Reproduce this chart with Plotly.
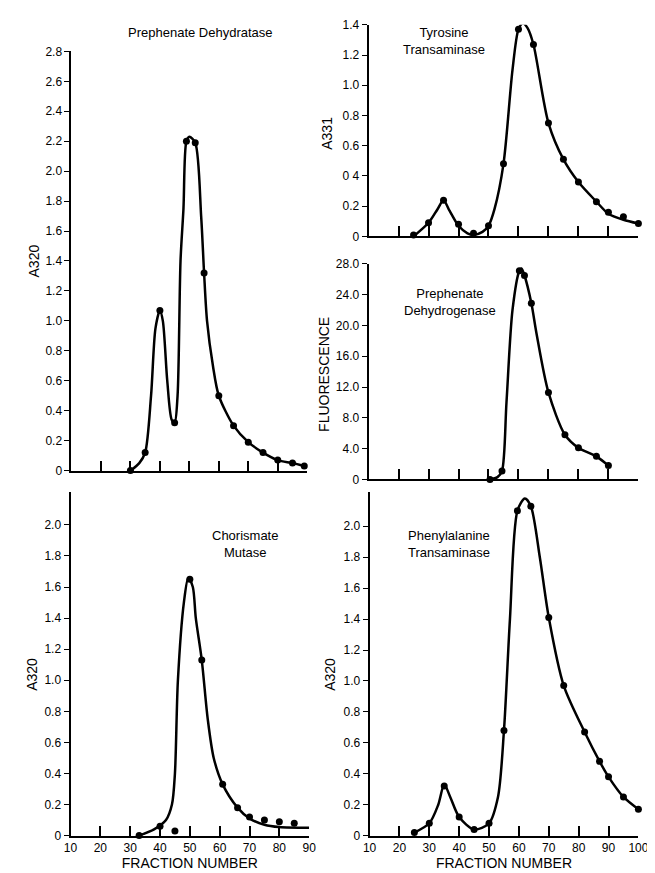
import plotly.graph_objects as go

W, H = 655, 873

# Prephenate Dehydratase (A320)
pdt_x = [30, 35, 40, 45, 49, 52, 55, 60, 65, 70, 75, 80, 85, 89]
pdt_y = [0.0, 0.12, 1.07, 0.32, 2.2, 2.19, 1.32, 0.5, 0.3, 0.19, 0.12, 0.07, 0.05, 0.03]
pdt_cx = [30, 33, 35, 37, 38.5, 40, 41, 42.5, 44, 45, 46, 47, 48, 49, 50, 52, 54, 55, 56, 58, 60, 65, 70, 75, 80, 85, 89]
pdt_cy = [0.0, 0.05, 0.12, 0.5, 0.95, 1.07, 1.0, 0.6, 0.34, 0.32, 0.5, 1.4, 1.75, 2.2, 2.23, 2.19, 1.7, 1.32, 1.0, 0.7, 0.5, 0.3, 0.19, 0.12, 0.07, 0.05, 0.03]

# Chorismate Mutase (A320)
cm_x = [33, 40, 45, 50, 54, 61, 66, 70, 75, 80, 85]
cm_y = [0.0, 0.06, 0.03, 1.65, 1.13, 0.33, 0.18, 0.12, 0.1, 0.09, 0.08]
cm_cx = [33, 38, 42, 44, 45, 46, 48, 49.5, 51, 52, 54, 56, 58, 61, 66, 70, 75, 80, 90]
cm_cy = [0.0, 0.04, 0.1, 0.2, 0.4, 1.0, 1.5, 1.66, 1.6, 1.4, 1.13, 0.75, 0.5, 0.33, 0.18, 0.11, 0.07, 0.055, 0.05]

# Tyrosine Transaminase (A331)
tt_x = [25, 30, 35, 40, 45, 50, 55, 60, 65, 70, 75, 80, 86, 90, 95, 100]
tt_y = [0.01, 0.09, 0.24, 0.08, 0.02, 0.07, 0.48, 1.37, 1.27, 0.75, 0.51, 0.36, 0.23, 0.16, 0.13, 0.085]
tt_cx = [25, 30, 33, 35, 37, 40, 43, 45, 48, 50, 52, 55, 58, 60, 61.5, 63, 65, 70, 75, 80, 86, 90, 95, 100]
tt_cy = [0.0, 0.09, 0.18, 0.24, 0.17, 0.07, 0.02, 0.01, 0.03, 0.07, 0.18, 0.48, 1.1, 1.37, 1.41, 1.38, 1.27, 0.75, 0.51, 0.36, 0.23, 0.15, 0.11, 0.085]

# Prephenate Dehydrogenase (fluorescence)
pdh_x = [50.5, 54.5, 60.3, 62, 64.3, 70, 75.5, 80, 86, 90]
pdh_y = [0.0, 1.1, 27.1, 26.5, 22.9, 11.3, 5.8, 4.1, 3.0, 1.8]
pdh_cx = [50.5, 53, 54.5, 56, 58, 60.3, 61, 62, 64.3, 66, 70, 75.5, 80, 86, 90]
pdh_cy = [0.0, 0.3, 1.1, 10, 22, 27.1, 27.4, 26.5, 22.9, 19, 11.3, 5.8, 4.1, 3.0, 1.8]

# Phenylalanine Transaminase (A320)
pt_x = [25, 30, 35, 40, 45, 50, 55, 59.5, 64, 70, 75, 82, 87, 90, 95, 100]
pt_y = [0.02, 0.08, 0.32, 0.12, 0.04, 0.08, 0.68, 2.1, 2.13, 1.41, 0.97, 0.67, 0.48, 0.38, 0.25, 0.17]
pt_cx = [25, 30, 33, 35, 37, 40, 45, 50, 53, 55, 57, 59.5, 62, 64, 67, 70, 75, 82, 87, 90, 95, 100]
pt_cy = [0.02, 0.08, 0.2, 0.33, 0.25, 0.12, 0.04, 0.08, 0.25, 0.68, 1.4, 2.1, 2.18, 2.13, 1.8, 1.41, 0.97, 0.67, 0.48, 0.38, 0.25, 0.17]

left_ticks = [10, 20, 30, 40, 50, 60, 70, 80, 90]
right_ticks = [10, 20, 30, 40, 50, 60, 70, 80, 90, 100]

FONT = "Liberation Sans"


def px_x(p):
    return p / W


def px_y(p):
    return 1 - p / H


panels = [
    # name, curve x, curve y, pts x, pts y, xdom px, ydom px, yrange, yticks, ytext, xlabels, xticks, xrange
    ("1", pdt_cx, pdt_cy, pdt_x, pdt_y, (58, 300), (463, 37), [0, 2.8],
     [0, 0.2, 0.4, 0.6, 0.8, 1.0, 1.2, 1.4, 1.6, 1.8, 2.0, 2.2, 2.4, 2.6, 2.8], None, False, left_ticks, [10, 90]),
    ("2", cm_cx, cm_cy, cm_x, cm_y, (57, 302), (834, 485), [0, 2.21],
     [0, 0.2, 0.4, 0.6, 0.8, 1.0, 1.2, 1.4, 1.6, 1.8, 2.0], None, True, left_ticks, [10, 90]),
    ("3", tt_cx, tt_cy, tt_x, tt_y, (363, 640), (225, 10), [0, 1.4],
     [0, 0.2, 0.4, 0.6, 0.8, 1.0, 1.2, 1.4], ["0", "0.2", "0 4", "0.6", "0.8", "1.0", "1.2", "1.4"], False, right_ticks, [10, 100]),
    ("4", pdh_cx, pdh_cy, pdh_x, pdh_y, (363, 640), (472, 253), [0, 28],
     [0, 4, 8, 12, 16, 20, 24, 28], ["0", "4.0", "8.0", "12.0", "16.0", "20.0", "24.0", "28.0"], False, right_ticks, [10, 100]),
    ("5", pt_cx, pt_cy, pt_x, pt_y, (364, 640), (834, 485), [0, 2.22],
     [0, 0.2, 0.4, 0.6, 0.8, 1.0, 1.2, 1.4, 1.6, 1.8, 2.0], None, True, right_ticks, [10, 100]),
]

fig = go.Figure()
layout = {}
for name, cx, cy, mx, my, xd, yd, yr, yt, ytt, xlab, xt, xr in panels:
    xa = "x" if name == "1" else "x" + name
    ya = "y" if name == "1" else "y" + name
    fig.add_trace(go.Scatter(x=cx, y=cy, mode="lines", line=dict(color="black", width=2.5, shape="spline", smoothing=0.8),
                             xaxis=xa, yaxis=ya, showlegend=False, hoverinfo="skip", cliponaxis=False))
    fig.add_trace(go.Scatter(x=mx, y=my, mode="markers", marker=dict(color="black", size=7),
                             xaxis=xa, yaxis=ya, showlegend=False, cliponaxis=False))
    key = "xaxis" if name == "1" else "xaxis" + name
    ykey = "yaxis" if name == "1" else "yaxis" + name
    layout[key] = dict(domain=[px_x(xd[0]), px_x(xd[1])], range=xr, anchor=ya, tickvals=xt,
                       showticklabels=xlab, ticks="inside", ticklen=10, tickwidth=1.8, tickcolor="black",
                       showline=True, linecolor="black", linewidth=2, showgrid=False, zeroline=False,
                       tickfont=dict(family=FONT, size=12, color="black"),
                       title=dict(text="FRACTION NUMBER" if xlab else "", standoff=4,
                                  font=dict(family=FONT, size=14, color="black")))
    layout[ykey] = dict(domain=[px_y(yd[0]), px_y(yd[1])], range=yr, anchor=xa, tickvals=yt,
                        ticktext=ytt if ytt else [("%g" % v if v == 0 else "%.1f" % v) for v in yt],
                        ticks="outside", ticklen=5, tickwidth=1.2, tickcolor="black",
                        showline=True, linecolor="black", linewidth=2, showgrid=False, zeroline=False,
                        tickfont=dict(family=FONT, size=12, color="black"))

notes = [
    ("Prephenate Dehydratase", 190, 18, 0),
    ("Tyrosine<br>Transaminase", 440, 26, 0),
    ("Prephenate<br>Dehydrogenase", 447, 292, 0),
    ("Chorismate<br>Mutase", 236, 538, 0),
    ("Phenylalanine<br>Transaminase", 446, 538, 0),
    ("A320", 20, 250, -90),
    ("A331", 320, 120, -90),
    ("FLUORESCENCE", 317, 365, -90),
    ("A320", 18, 670, -90),
    ("A320", 324, 670, -90),
]
ann = []
for text, x, y, ang in notes:
    ann.append(dict(text=text, x=px_x(x), y=px_y(y), xref="paper", yref="paper", showarrow=False,
                    xanchor="center", yanchor="middle", textangle=ang,
                    font=dict(family=FONT, size=14 if ang else 13, color="black"), align="center"))

fig.update_layout(width=W, height=H, margin=dict(l=0, r=0, t=0, b=0), plot_bgcolor="white",
                  paper_bgcolor="white", annotations=ann, **layout)

fig.write_html("out.html")
